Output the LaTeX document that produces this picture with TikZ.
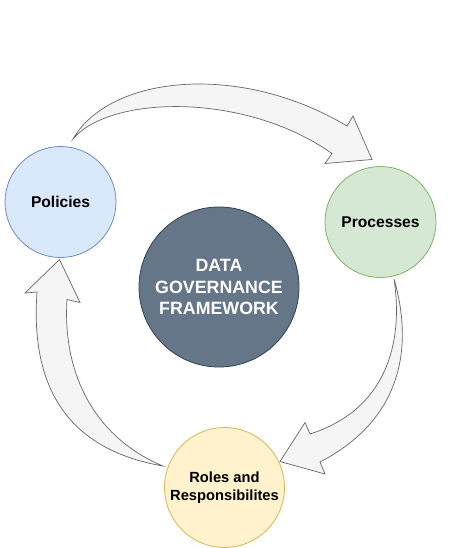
\documentclass[tikz,border=0pt]{standalone}
\usepackage{fontspec}
\setmainfont{Liberation Sans}
\definecolor{polfill}{HTML}{DAE8FC}\definecolor{poldraw}{HTML}{6C8EBF}
\definecolor{profill}{HTML}{D5E8D4}\definecolor{prodraw}{HTML}{82B366}
\definecolor{rolfill}{HTML}{FFF2CC}\definecolor{roldraw}{HTML}{D6B656}
\definecolor{datfill}{HTML}{647687}\definecolor{datdraw}{HTML}{314354}
\definecolor{arrfill}{HTML}{F5F5F5}\definecolor{arrdraw}{HTML}{666666}
\begin{document}
\begin{tikzpicture}[x=1pt,y=-1pt,
  circ/.style={circle,inner sep=0pt,line width=0.8pt,align=center,font=\bfseries},
  fatarrow/.style={fill=arrfill,draw=arrdraw,line width=0.7pt,line join=miter}]
\useasboundingbox (0,0) rectangle (450,548);
\node[circ,fill=polfill,draw=poldraw,minimum size=111pt,font=\bfseries\fontsize{15.6}{18}\selectfont] (pol) at (60.5,202) {Policies};
\node[circ,fill=profill,draw=prodraw,minimum size=111pt,font=\bfseries\fontsize{15.6}{18}\selectfont] (pro) at (380.5,222) {Processes};
\node[circ,fill=datfill,draw=datdraw,minimum size=160pt,text=white,font=\bfseries\fontsize{17.8}{21.3}\selectfont] (dat) at (219,287) {DATA\\GOVERNANCE\\FRAMEWORK};
\node[circ,fill=rolfill,draw=roldraw,minimum size=120pt,font=\bfseries\fontsize{14.7}{17.5}\selectfont] (rol) at (224.5,487.5) {Roles and\\Responsibilites};
% top arrow: Policies -> Processes
\coordinate (t1) at (73,139);
\coordinate (o1) at (347,126); \coordinate (b1a) at (353,116);
\coordinate (h1) at (372,159.5); \coordinate (b1b) at (325,163.5);
\coordinate (i1) at (332,153.5);
\draw[fatarrow] (t1) .. controls (110,75) and (240,62) .. (o1) -- (b1a) -- (h1) -- (b1b) -- (i1)
  .. controls (245,92) and (110,95) .. (t1) -- cycle;
% right arrow: Processes -> Roles
\coordinate (t2) at (394,279);
\coordinate (o2) at (320,462); \coordinate (b2a) at (325,474);
\coordinate (h2) at (280,461.5); \coordinate (b2b) at (305,422.5);
\coordinate (i2) at (310,434);
\draw[fatarrow] (t2) .. controls (406,320) and (420,410) .. (o2) -- (b2a) -- (h2) -- (b2b) -- (i2)
  .. controls (385,410) and (404,345) .. (t2) -- cycle;
% left arrow: Roles -> Policies
\coordinate (t3) at (163,466);
\coordinate (o3) at (37,292); \coordinate (b3a) at (25,293);
\coordinate (h3) at (59.5,259.5); \coordinate (b3b) at (80,302.5);
\coordinate (i3) at (67,299.5);
\draw[fatarrow] (t3) .. controls (100,440) and (62,380) .. (i3) -- (b3b) -- (h3) -- (b3a) -- (o3)
  .. controls (30,390) and (70,450) .. (t3) -- cycle;
\end{tikzpicture}
\end{document}
